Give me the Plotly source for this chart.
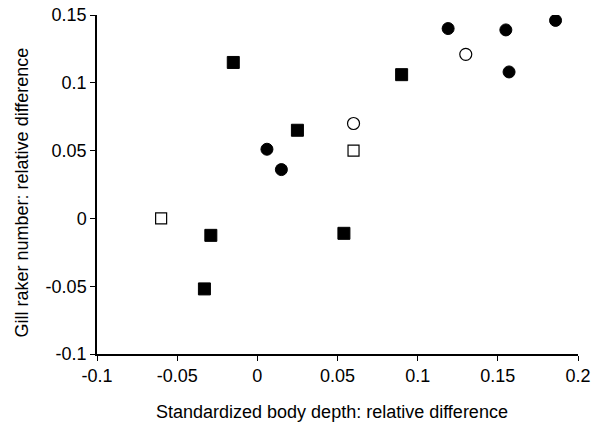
import plotly.graph_objects as go

# Data
filled_sq_x = [-0.015, 0.025, 0.090, 0.054, -0.029, -0.033]
filled_sq_y = [0.115, 0.065, 0.106, -0.011, -0.0125, -0.052]

open_sq_x = [-0.060, 0.060]
open_sq_y = [0.000, 0.050]

filled_ci_x = [0.006, 0.015, 0.119, 0.155, 0.186, 0.157]
filled_ci_y = [0.051, 0.036, 0.140, 0.139, 0.146, 0.108]

open_ci_x = [0.130, 0.060]
open_ci_y = [0.121, 0.070]

x_ticks = [-0.1, -0.05, 0, 0.05, 0.1, 0.15, 0.2]
x_labels = ["-0.1", "-0.05", "0", "0.05", "0.1", "0.15", "0.2"]
y_ticks = [-0.1, -0.05, 0, 0.05, 0.1, 0.15]
y_labels = ["-0.1", "-0.05", "0", "0.05", "0.1", "0.15"]

x_title = "Standardized body depth: relative difference"
y_title = "Gill raker number: relative difference"

fig = go.Figure()
fig.add_trace(go.Scatter(x=filled_sq_x, y=filled_sq_y, mode="markers",
                         marker=dict(symbol="square", size=12, color="black",
                                     line=dict(color="black", width=1))))
fig.add_trace(go.Scatter(x=open_sq_x, y=open_sq_y, mode="markers",
                         marker=dict(symbol="square", size=11, color="white",
                                     line=dict(color="black", width=1.2))))
fig.add_trace(go.Scatter(x=filled_ci_x, y=filled_ci_y, mode="markers",
                         marker=dict(symbol="circle", size=12, color="black",
                                     line=dict(color="black", width=1))))
fig.add_trace(go.Scatter(x=open_ci_x, y=open_ci_y, mode="markers",
                         marker=dict(symbol="circle", size=12, color="white",
                                     line=dict(color="black", width=1.2))))

tick_font = dict(family="Liberation Sans", size=18, color="black")
title_font = dict(family="Liberation Sans", size=18, color="black")

fig.update_layout(
    width=605, height=425,
    margin=dict(l=97, r=27, t=15, b=71),
    paper_bgcolor="white", plot_bgcolor="white",
    showlegend=False,
    font=tick_font,
    xaxis=dict(range=[-0.1, 0.2], tickvals=x_ticks, ticktext=x_labels,
               showgrid=False, zeroline=False, showline=True, linecolor="black",
               linewidth=1.5, ticks="outside", ticklen=5, tickcolor="black",
               automargin=False, tickfont=tick_font),
    yaxis=dict(range=[-0.1, 0.15], tickvals=y_ticks, ticktext=y_labels,
               showgrid=False, zeroline=False, showline=True, linecolor="black",
               linewidth=1.5, ticks="outside", ticklen=5, tickcolor="black",
               automargin=False, tickfont=tick_font),
    annotations=[
        dict(text=x_title, xref="paper", yref="paper", x=0.4886, y=-0.171,
             xanchor="center", yanchor="middle", showarrow=False, font=title_font),
        dict(text=y_title, xref="paper", yref="paper", x=-0.157, y=0.478,
             xanchor="center", yanchor="middle", textangle=-90, showarrow=False,
             font=title_font),
    ],
)

fig.write_html("out.html", config={"displayModeBar": False},
               post_script="document.body.style.margin='0';document.body.style.overflow='hidden';")
